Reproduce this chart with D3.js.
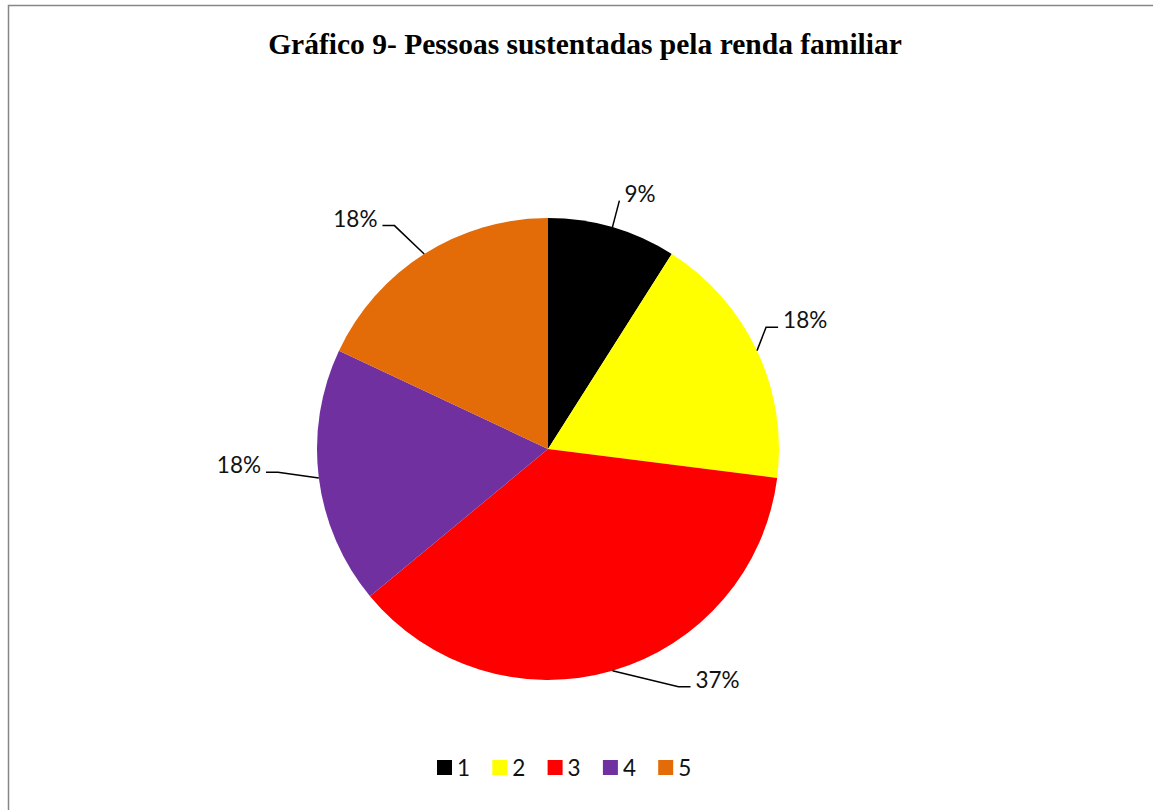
<!DOCTYPE html>
<html>
<head>
<meta charset="utf-8">
<script src="https://cdn.jsdelivr.net/npm/d3@7"></script>
<style>
  body { margin: 0; background: #fff; }
  svg { display: block; }
</style>
</head>
<body>
<div id="root"></div>
<script>
const categories = ["1", "2", "3", "4", "5"];
const values = [9, 18, 37, 18, 18];
const colors = ["#000000", "#ffff00", "#ff0000", "#7030a0", "#e36c09"];
// where each data label sits: [radius multiplier, angle in degrees from north]
const labelSpots = [[1.175, 19.8], [1.245, 63.4], [1.24, 143.7], [1.34, 267], [1.30, 320.1]];

const width = 1153;
const height = 810;

const svg = d3.select("#root")
  .append("svg")
  .attr("width", width)
  .attr("height", height);

// chart frame (runs off the right and bottom edges)
svg.append("rect")
  .attr("x", 8.5)
  .attr("y", 5.5)
  .attr("width", width + 20)
  .attr("height", height + 20)
  .attr("fill", "none")
  .attr("stroke", "#868686")
  .attr("stroke-width", 1.5);

svg.append("text")
  .attr("x", 585)
  .attr("y", 54)
  .attr("text-anchor", "middle")
  .style("font-family", "'Liberation Serif', 'Times New Roman', serif")
  .style("font-weight", "bold")
  .style("font-size", "29.5px")
  .text("Gráfico 9- Pessoas sustentadas pela renda familiar");

const cx = 548, cy = 449, r = 231;

const pie = d3.pie().sort(null).value((d) => d);
const arcs = pie(values);
const arc = d3.arc().innerRadius(0).outerRadius(r);

const g = svg.append("g").attr("transform", `translate(${cx},${cy})`);

g.selectAll("path")
  .data(arcs)
  .join("path")
  .attr("d", arc)
  .attr("fill", (d, i) => colors[i]);

// data labels with leader lines
const fmt = (v) => Math.round(v / d3.sum(values) * 100) + "%";
const labelFont = "Lato, 'Open Sans', sans-serif";

arcs.forEach((d, i) => {
  const mid = (d.startAngle + d.endAngle) / 2;
  const start = [r * Math.sin(mid), -r * Math.cos(mid)];
  const a = labelSpots[i][1] * Math.PI / 180;
  const lr = r * labelSpots[i][0];
  const lx = lr * Math.sin(a);
  const ly = -lr * Math.cos(a);

  const t = g.append("text")
    .attr("x", lx)
    .attr("y", ly)
    .attr("dy", "0.35em")
    .attr("text-anchor", "middle")
    .style("font-family", labelFont)
    .style("font-size", "22.5px")
    .attr("fill", "#111")
    .text(fmt(values[i]));

  const box = t.node().getBBox();
  const right = lx > 0;
  const ex = right ? box.x - 5 : box.x + box.width + 5;
  const ey = ly + 7;
  const pts = [[ex, ey]];
  if (Math.abs(Math.sin(a)) > 0.5) {
    pts.push([ex + (right ? -12 : 12), ey]);
  }
  pts.push(start);

  g.append("path")
    .attr("d", d3.line()(pts))
    .attr("fill", "none")
    .attr("stroke", "#000")
    .attr("stroke-width", 1.5);
});

// legend
const legend = svg.append("g").attr("transform", "translate(437,760)");
const item = legend.selectAll("g")
  .data(categories)
  .join("g")
  .attr("transform", (d, i) => `translate(${i * 55.3},0)`);

item.append("rect")
  .attr("width", 15)
  .attr("height", 15)
  .attr("fill", (d, i) => colors[i]);

item.append("text")
  .attr("x", 20)
  .attr("y", 8)
  .attr("dy", "0.35em")
  .style("font-family", labelFont)
  .style("font-size", "22.5px")
  .attr("fill", "#111")
  .text((d) => d);
</script>
</body>
</html>
